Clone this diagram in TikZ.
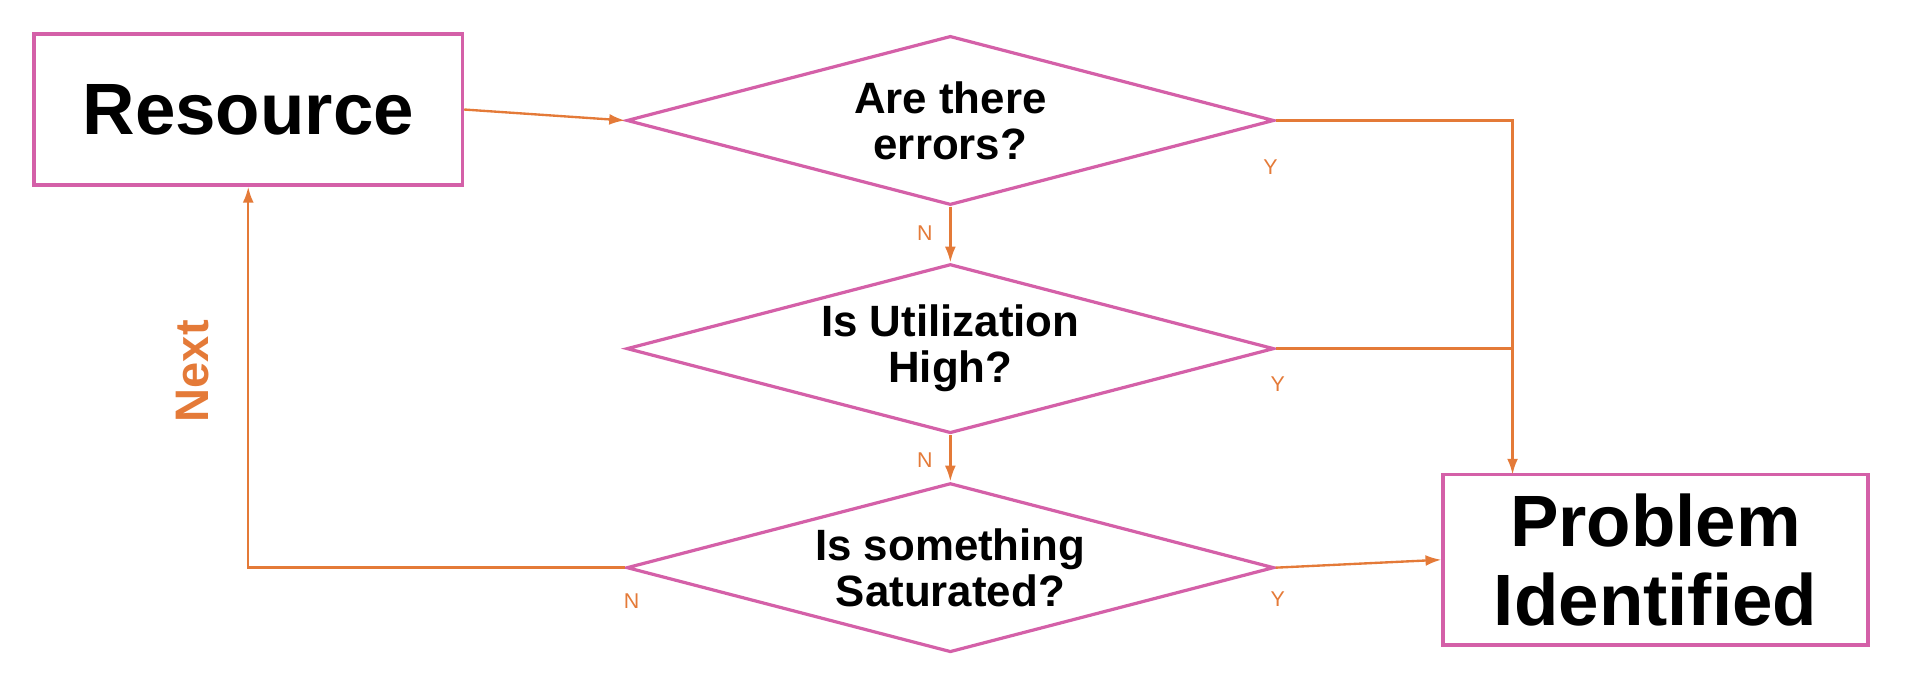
\documentclass[tikz,border=0pt]{standalone}
\usepackage{fontspec}
\setmainfont{Liberation Sans}
\usetikzlibrary{shapes.geometric,arrows.meta}
\definecolor{pinkb}{RGB}{212,96,168}
\definecolor{orng}{RGB}{228,122,56}
\tikzset{
  boxnode/.style={draw=pinkb, line width=1.7pt, rectangle, inner sep=0pt, align=center, font=\bfseries\fontsize{34}{37}\selectfont},
  decnode/.style={draw=pinkb, line width=1.5pt, diamond, inner sep=0pt, aspect=3.8, minimum width=106.4mm, minimum height=27.8mm, align=center, font=\bfseries\fontsize{20.5}{21.5}\selectfont},
  conn/.style={draw=orng, line width=1.1pt},
  arr/.style={conn, -{Latex[length=2.6mm,width=1.8mm]}},
  yn/.style={text=orng, font=\fontsize{10}{12}\selectfont, inner sep=0pt},
}
\begin{document}
\begin{tikzpicture}[x=0.2mm, y=-0.2mm]
\useasboundingbox (0,0) rectangle (1568,569);
\node[boxnode, minimum width=70.4mm, minimum height=24.8mm] (res) at (204,90) {Resource};
\node[boxnode, minimum width=69.8mm, minimum height=28mm] (prob) at (1360.5,460) {Problem\\Identified};
\node[decnode] (d1) at (781,99) {Are there\\errors?};
\node[decnode] (d2) at (781,286.5) {Is Utilization\\High?};
\node[decnode] (d3) at (781,466.5) {Is something\\Saturated?};
\coordinate (ptop) at (1243,390);
\draw[arr] (res.east) -- (d1.west);
\draw[arr] (d1.south) -- (d2.north);
\draw[arr] (d2.south) -- (d3.north);
\draw[arr] (d1.east) -| (ptop);
\draw[conn] (d2.east) -- (d2.east -| ptop);
\draw[arr] (d3.east) -- (prob.west);
\draw[arr] (d3.west) -| (res.south);
\node[yn] (n1) at (760,192) {N};
\node[yn] (n2) at (760,378) {N};
\node[yn] (n3) at (519,494) {N};
\node[yn] (y1) at (1044,137) {Y};
\node[yn] (y2) at (1050,316) {Y};
\node[yn] (y3) at (1050,492) {Y};
\node[text=orng, font=\bfseries\fontsize{22}{24}\selectfont, rotate=90, inner sep=0pt] (next) at (158,305) {Next};
\end{tikzpicture}
\end{document}
